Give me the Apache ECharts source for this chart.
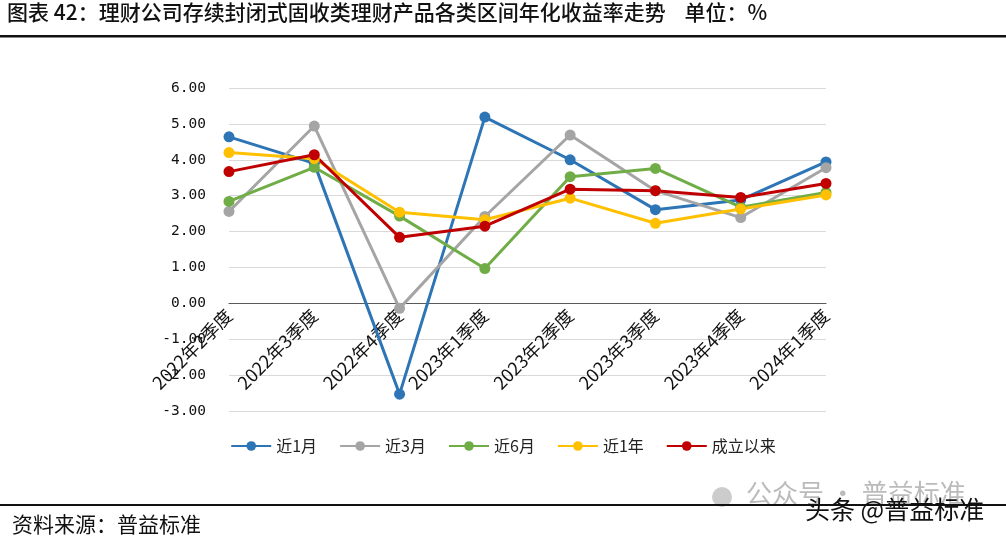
<!DOCTYPE html>
<html><head><meta charset="utf-8">
<script src="https://cdn.jsdelivr.net/npm/echarts@6/dist/echarts.min.js"></script>
<style>html,body{margin:0;padding:0;background:#fff;}#c{width:1006px;height:541px;}</style>
</head><body><div id="c"></div>
<script>
const categories = ['2022年2季度','2022年3季度','2022年4季度','2023年1季度','2023年2季度','2023年3季度','2023年4季度','2024年1季度'];
const seriesNames = ['近1月','近3月','近6月','近1年','成立以来'];
const m1 = [4.64, 3.90, -2.53, 5.19, 4.00, 2.61, 2.88, 3.94];
const m3 = [2.56, 4.94, -0.14, 2.42, 4.69, 3.14, 2.39, 3.78];
const m6 = [2.84, 3.79, 2.43, 0.97, 3.53, 3.76, 2.68, 3.09];
const y1 = [4.20, 4.03, 2.54, 2.33, 2.93, 2.23, 2.63, 3.02];
const since = [3.67, 4.14, 1.84, 2.15, 3.18, 3.14, 2.95, 3.34];
const colors = ['#2E75B6','#A5A5A5','#70AD47','#FFC000','#C00000'];
const allData = [m1, m3, m6, y1, since];
const yMin = -3, yMax = 6;

const chart = echarts.init(document.getElementById('c'));
const cjk = '"Noto Sans CJK SC", sans-serif';
const gTop = 88, gBottom = 130, H = 541;
const gh = H - gTop - gBottom;
const zeroOffset = -(gh * (0 - yMin) / (yMax - yMin));
chart.setOption({
  animation: false,
  backgroundColor: '#fff',
  color: colors,
  grid: { left: 229, right: 180, top: gTop, bottom: gBottom, containLabel: false },
  legend: {
    bottom: 82, left: 'center',
    itemWidth: 40, itemHeight: 12, itemGap: 22,
    textStyle: { fontFamily: cjk, fontSize: 16, color: '#222' },
    data: seriesNames
  },
  xAxis: {
    type: 'category', data: categories, boundaryGap: false,
    offset: zeroOffset,
    axisLine: { onZero: false, lineStyle: { color: '#595959', width: 1.2 } },
    axisTick: { show: false },
    axisLabel: { rotate: 45, fontFamily: cjk, fontSize: 18, color: '#111', margin: 9, interval: 0 }
  },
  yAxis: {
    type: 'value', min: yMin, max: yMax, interval: 1,
    axisLine: { show: false }, axisTick: { show: false },
    splitLine: { lineStyle: { color: '#D9D9D9', width: 1 } },
    axisLabel: { fontFamily: '"DejaVu Sans Mono", monospace', fontSize: 14.5, color: '#111', margin: 23,
      formatter: v => v.toFixed(2) }
  },
  series: seriesNames.map((n, i) => ({
    name: n, type: 'line', data: allData[i],
    symbol: 'circle', symbolSize: 11,
    lineStyle: { width: 3, color: colors[i] },
    itemStyle: { color: colors[i] }
  })),
  graphic: [
    { type: 'text', left: 7, top: 2, style: { text: '图表 42：理财公司存续封闭式固收类理财产品各类区间年化收益率走势    单位：%', font: '500 21px "Noto Sans CJK SC"', fill: '#111' } },
    { type: 'rect', shape: { x: 0, y: 35, width: 1006, height: 2.5 }, style: { fill: '#111' } },
    { type: 'text', left: 746, top: 480, style: { text: '公众号 · 普益标准', font: '26px "Noto Sans CJK SC"', fill: '#bbb' } },
    { type: 'circle', shape: { cx: 722, cy: 497, r: 10 }, style: { fill: '#ccc' } },
    { type: 'rect', shape: { x: 0, y: 504, width: 1006, height: 2 }, style: { fill: '#111' } },
    { type: 'text', left: 12, top: 514, style: { text: '资料来源：普益标准', font: '21px "Noto Sans CJK SC"', fill: '#111' } },
    { type: 'text', left: 805, top: 497, style: { text: '头条 @普益标准', font: '25px "Noto Sans CJK SC"', fill: '#111' } }
  ]
});
</script></body></html>
